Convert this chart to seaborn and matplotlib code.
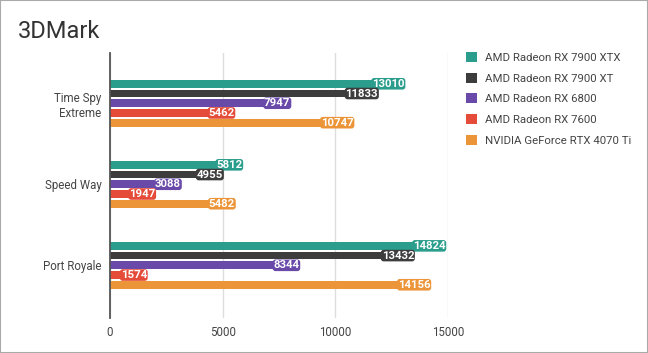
import pandas as pd
import seaborn as sns
import matplotlib.pyplot as plt
from matplotlib.patches import Rectangle

benchmarks = ["Time Spy\nExtreme", "Speed Way", "Port Royale"]
gpus = ["AMD Radeon RX 7900 XTX", "AMD Radeon RX 7900 XT", "AMD Radeon RX 6800",
        "AMD Radeon RX 7600", "NVIDIA GeForce RTX 4070 Ti"]
rx7900xtx = [13010, 5812, 14824]
rx7900xt = [11833, 4955, 13432]
rx6800 = [7947, 3088, 8344]
rx7600 = [5462, 1947, 1574]
rtx4070ti = [10747, 5482, 14156]
colors = ["#2a9d8c", "#3d3d3d", "#6a4aa8", "#e44b39", "#ec9438"]

scores = [rx7900xtx, rx7900xt, rx6800, rx7600, rtx4070ti]
rows = []
for gpu, vals in zip(gpus, scores):
    for bench, v in zip(benchmarks, vals):
        rows.append({"Benchmark": bench, "GPU": gpu, "Score": v})
df = pd.DataFrame(rows)

sns.set_style("white")
plt.rcParams['font.family'] = ['Roboto', 'DejaVu Sans']

fig = plt.figure(figsize=(6.48, 3.53), dpi=100)
ax = fig.add_axes([0.1698, 0.0992, 0.6914 - 0.1698, 0.8499 - 0.0992])

sns.barplot(data=df, y="Benchmark", x="Score", hue="GPU", hue_order=gpus,
            palette=colors, orient="h", width=0.6, gap=0.2, saturation=1,
            linewidth=0, ax=ax, legend=True)

ax.set_xlim(0, 15000)
ax.set_ylim(2.65, -0.62)
ax.set_xticks([0, 5000, 10000, 15000])
ax.set_yticks(range(len(benchmarks)), benchmarks, multialignment="right")
ax.set_xlabel("")
ax.set_ylabel("")
ax.grid(axis="x", color="#dddddd", linewidth=1)
ax.set_axisbelow(True)
for s in ["top", "right", "bottom"]:
    ax.spines[s].set_visible(False)
ax.spines["left"].set_color("#555555")
ax.spines["left"].set_linewidth(1.3)
ax.tick_params(axis="both", length=0, labelsize=8.3, labelcolor="#444444", pad=6)

# value labels in coloured boxes at the bar ends
for container, col in zip(ax.containers, colors):
    for p in container:
        w = p.get_width()
        ax.annotate(f"{int(w)}", (w, p.get_y() + p.get_height() / 2),
                    xytext=(1, 0), textcoords="offset points",
                    ha="right", va="center", fontsize=8.2, fontweight="bold",
                    color="white",
                    bbox=dict(boxstyle="round,pad=0.07,rounding_size=0.25",
                              fc=col, ec="none"))

handles, labels = ax.get_legend_handles_labels()
ax.legend_.remove()
fig.legend(handles, labels, loc="upper left", bbox_to_anchor=(0.703, 0.882),
           frameon=False, fontsize=8.2, labelspacing=0.85, handlelength=1.0,
           handleheight=1.0, handletextpad=0.7, labelcolor="#444444")

fig.text(0.027, 0.912, "3DMark", fontsize=17, color="#333333", va="center", ha="left")

fig.add_artist(Rectangle((0, 0), 1, 1, transform=fig.transFigure, fill=False,
                         ec="#aaaaaa", lw=1.5))

fig.savefig("out.png", dpi=100)
